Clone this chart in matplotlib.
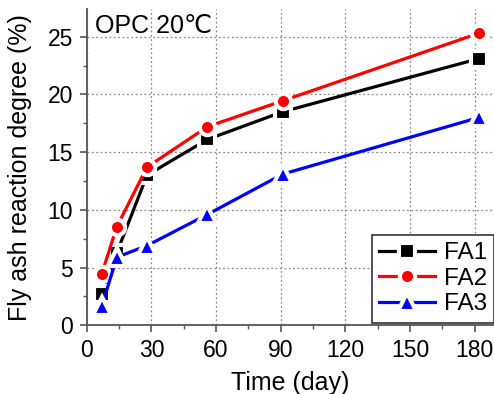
import matplotlib
matplotlib.use("Agg")
import matplotlib.pyplot as plt
from matplotlib.ticker import MultipleLocator

plt.rcParams['font.family'] = ['Liberation Sans', 'DejaVu Sans']

days = [7, 14, 28, 56, 91, 182]
fa1 = [2.7, 6.3, 13.0, 16.1, 18.5, 23.1]
fa2 = [4.45, 8.55, 13.7, 17.2, 19.45, 25.3]
fa3 = [1.65, 5.9, 6.9, 9.6, 13.1, 18.0]
series = [("FA1", fa1, "black", "s"), ("FA2", fa2, "red", "o"), ("FA3", fa3, "blue", "^")]
xticks = [0, 30, 60, 90, 120, 150, 180]
yticks = [0, 5, 10, 15, 20, 25]

fig = plt.figure(figsize=(4.94, 3.94), dpi=100)
ax = fig.add_axes([0.1755, 0.1744, 0.8245, 0.8028])

for name, vals, col, mk in series:
    ms = 12.5 if mk == "^" else 11
    ax.plot(days, vals, color=col, lw=2.3, marker=mk, ms=ms,
            mfc=col, mec="white", mew=3.0, label=name, zorder=3)

ax.set_xlim(0, 189)
ax.set_ylim(0, 27.4)
ax.set_xticks(xticks)
ax.set_yticks(yticks)
ax.xaxis.set_minor_locator(MultipleLocator(15))
ax.yaxis.set_minor_locator(MultipleLocator(2.5))
ax.grid(True, which='major', ls=(0, (1.5, 2)), color='#888888', lw=0.9)
ax.set_axisbelow(True)

for s in ['top', 'right']:
    ax.spines[s].set_visible(False)
for s in ['left', 'bottom']:
    ax.spines[s].set_color('#555555')
    ax.spines[s].set_linewidth(1.3)
ax.tick_params(which='major', direction='out', length=5, width=1.2, color='#555555',
               labelsize=16.5, pad=5)
ax.tick_params(which='minor', direction='out', length=3, width=1.0, color='#555555')

ax.set_xlabel("Time (day)", fontsize=18, labelpad=6)
ax.set_ylabel("Fly ash reaction degree (%)", fontsize=18, labelpad=11)
ax.text(0.02, 0.985, "OPC 20℃", transform=ax.transAxes, fontsize=18,
        va='top', ha='left', family=['Liberation Sans', 'DejaVu Sans'])

leg = ax.legend(loc='lower left', bbox_to_anchor=(0.70, 0.008), fontsize=17.5,
                handlelength=2.3, handletextpad=0.37, borderpad=0.3,
                borderaxespad=0, labelspacing=0.15, fancybox=False, framealpha=1,
                edgecolor='#333333', markerscale=1.0)
leg.get_frame().set_linewidth(1.2)

fig.savefig("out.png", dpi=100)
